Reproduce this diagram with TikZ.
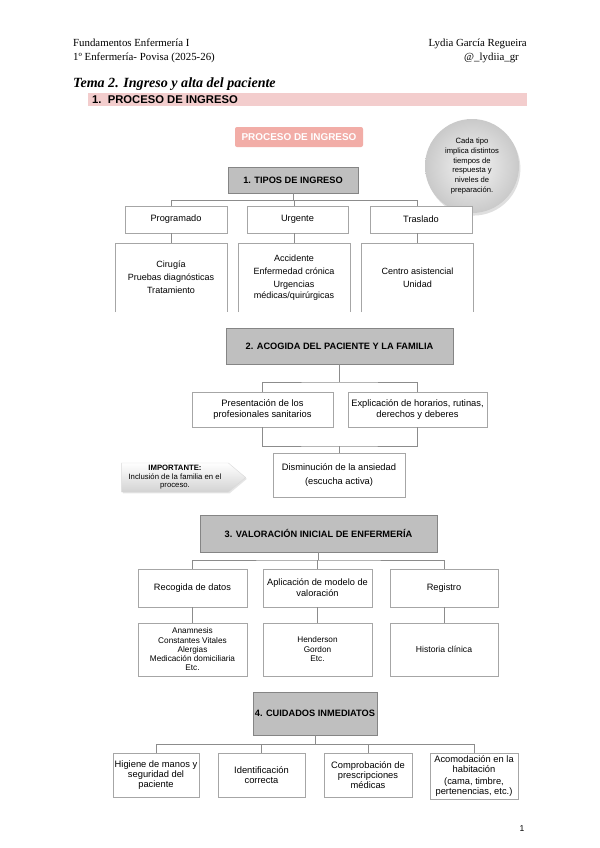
\documentclass[tikz,border=0pt]{standalone}
\usepackage{fontspec}
\setmainfont{Liberation Serif}
\setsansfont{Liberation Sans}
\usetikzlibrary{shapes.symbols,shadows}

\definecolor{headgray}{HTML}{BFBFBF}
\definecolor{headline}{HTML}{858585}
\definecolor{boxline}{HTML}{A6A6A6}
\definecolor{linegray}{HTML}{8C8C8C}
\definecolor{barpink}{HTML}{F3CDCD}
\definecolor{salmon}{HTML}{F2ADA7}

\begin{document}
\begin{tikzpicture}[x=0.35mm, y=-0.35mm]
        \tikzset{
            head/.style={draw=headline, fill=headgray, inner sep=0pt, align=center,
                font=\sffamily\bfseries\fontsize{9.2}{11}\selectfont},
            item/.style={draw=boxline, fill=white, inner sep=0pt, align=center,
                font=\sffamily\fontsize{9.2}{11}\selectfont},
            sub/.style={item, font=\sffamily\fontsize{8.2}{9.5}\selectfont},
            small/.style={font=\sffamily\fontsize{9.3}{9.8}\selectfont},
            pagetext/.style={inner sep=0pt, font=\fontsize{10.8}{12}\selectfont},
            conn/.style={draw=linegray, line width=0.6pt}
        }

        \fill[white] (0,0) rectangle (600,848);
        \useasboundingbox (0,0) rectangle (600,848);

        % Page header
        \node[pagetext, anchor=base west] (course) at (73,46) {Fundamentos Enfermería I};
        \node[pagetext, anchor=base west] (year) at (73,60) {1º Enfermería- Povisa (2025-26)};
        \node[pagetext, anchor=base east] (author) at (527,46) {Lydia García Regueira};
        \node[pagetext, anchor=base east] (handle) at (519,60) {@\_lydiia\_gr};
        \node[inner sep=0pt, anchor=base west, font=\bfseries\itshape\fontsize{14}{16}\selectfont] (title) at (73,87) {Tema 2. Ingreso y alta del paciente};
        \fill[barpink] (88,93) rectangle (527,106);
        \node[inner sep=0pt, anchor=west, font=\sffamily\bfseries\fontsize{11.2}{12}\selectfont] (section) at (92,99.5) {1.\ \ PROCESO DE INGRESO};

        % Section 1 - Tipos de ingreso
        \node[fill=salmon, rounded corners=2pt, minimum width=44.8mm, minimum height=7mm, text=white,
            font=\sffamily\bfseries\fontsize{9.9}{11}\selectfont] (proceso) at (299,137) {PROCESO DE INGRESO};
        \node[circle, minimum size=32.9mm, inner sep=0pt, inner color=gray!8, outer color=gray!42,
            drop shadow={opacity=0.25, shadow xshift=0.5mm, shadow yshift=-0.9mm},
            align=center, font=\sffamily\fontsize{7.6}{9.7}\selectfont] (nota) at (472,166)
            {Cada tipo\\implica distintos\\tiempos de\\respuesta y\\niveles de\\preparación.};
        \node[head, minimum width=45.5mm, minimum height=9.1mm] (tipos) at (293,180) {1. TIPOS DE INGRESO};
        \node[item, minimum width=35.7mm, minimum height=9.45mm] (prog) at (176,219.5) {Programado};
        \node[item, minimum width=35.4mm, minimum height=9.45mm] (urg) at (297.5,219.5) {Urgente};
        \node[item, minimum width=35.7mm, minimum height=9.45mm] (tras) at (421,219.5) {Traslado};
        \node[item, draw=none, minimum width=39.2mm, minimum height=24.15mm, font=\sffamily\fontsize{9}{12.9}\selectfont] (dprog) at (171,277.5)
            {Cirugía\\Pruebas diagnósticas\\Tratamiento};
        \node[item, draw=none, minimum width=39.2mm, minimum height=24.15mm, font=\sffamily\fontsize{9}{10.5}\selectfont] (durg) at (294,277.5)
            {Accidente\\[2.4pt]Enfermedad crónica\\[2.4pt]Urgencias\\médicas/quirúrgicas};
        \node[item, draw=none, minimum width=38.9mm, minimum height=24.15mm, font=\sffamily\fontsize{9}{12.9}\selectfont] (dtras) at (417.5,277.5)
            {Centro asistencial\\Unidad};
        \foreach \n in {prog,urg,tras} {
            \draw[boxline, line width=0.5pt] (d\n.south west) -- (d\n.north west) -- (d\n.north east) -- (d\n.south east);
        }
        \coordinate (j1) at (293,200);
        \draw[conn] (tipos.south) -- (j1);
        \draw[conn] (dprog.north |- j1) -- (dtras.north |- j1);
        \foreach \n in {prog,urg,tras} {
            \draw[conn] (d\n.north |- j1) -- (d\n.north |- \n.north);
            \draw[conn] (d\n.north |- \n.south) -- (d\n.north);
        }

        % Section 2 - Acogida
        \node[head, minimum width=79.45mm, minimum height=12.6mm] (acog) at (339.5,346) {2. ACOGIDA DEL PACIENTE Y LA FAMILIA};
        \node[item, minimum width=49.35mm, minimum height=12.25mm, font=\sffamily\fontsize{9.3}{11}\selectfont] (pres) at (262.5,409.5)
            {Presentación de los\\profesionales sanitarios};
        \node[item, minimum width=48.65mm, minimum height=12.25mm, font=\sffamily\fontsize{9.3}{11}\selectfont] (expl) at (417.5,409.5)
            {Explicación de horarios, rutinas,\\derechos y deberes};
        \node[item, minimum width=46.2mm, minimum height=15.4mm, font=\sffamily\fontsize{9.3}{14}\selectfont] (dism) at (339,475)
            {Disminución de la ansiedad\\(escucha activa)};
        \node[signal, signal to=east, signal pointer angle=80, minimum width=43.4mm, minimum height=10.15mm,
            inner sep=0pt, draw=gray!30, top color=white, bottom color=gray!35,
            drop shadow={opacity=0.2, shadow xshift=0.4mm, shadow yshift=-0.5mm},
            align=center, font=\sffamily\fontsize{7.7}{8.4}\selectfont] (imp) at (175,477.5)
            {\textbf{IMPORTANTE:}\\Inclusión de la familia en el\\proceso.};
        \coordinate (j2) at (339.5,382);
        \coordinate (k2) at (339,446);
        \draw[conn] (acog.south) -- (j2);
        \draw[conn] (pres.north) |- (j2) -| (expl.north);
        \draw[conn] (pres.south) |- (k2) -| (expl.south);
        \draw[conn] (k2) -- (dism.north);

        % Section 3 - Valoracion inicial
        \node[head, minimum width=82.95mm, minimum height=12.95mm] (val) at (318.5,533.5) {3. VALORACIÓN INICIAL DE ENFERMERÍA};
        \node[item, minimum width=38.15mm, minimum height=13.3mm] (rec) at (192.5,588) {Recogida de datos};
        \node[item, minimum width=38.15mm, minimum height=13.3mm] (apl) at (317.5,588) {Aplicación de modelo de\\valoración};
        \node[item, minimum width=37.8mm, minimum height=13.3mm] (reg) at (444,588) {Registro};
        \node[sub, minimum width=38.15mm, minimum height=18.55mm, font=\sffamily\fontsize{8.2}{9.2}\selectfont] (drec) at (192.5,649.5)
            {Anamnesis\\Constantes Vitales\\Alergias\\Medicación domiciliaria\\Etc.};
        \node[sub, minimum width=38.15mm, minimum height=18.55mm] (dapl) at (317.5,649.5) {Henderson\\Gordon\\Etc.};
        \node[sub, minimum width=37.8mm, minimum height=18.55mm, font=\sffamily\fontsize{8.6}{10}\selectfont] (dreg) at (444,649.5) {Historia clínica};
        \coordinate (j3) at (318.5,560);
        \draw[conn] (val.south) -- (j3);
        \draw[conn] (rec.north) |- (j3) -| (reg.north);
        \draw[conn] (apl.north |- j3) -- (apl.north);
        \foreach \n in {rec,apl,reg} {
            \draw[conn] (\n.south) -- (d\n.north);
        }

        % Section 4 - Cuidados inmediatos
        \node[head, minimum width=43.4mm, minimum height=15.05mm] (cuid) at (315,713.5) {4. CUIDADOS INMEDIATOS};
        \node[item, small, minimum width=30.1mm, minimum height=15.4mm] (hig) at (156,775)
            {Higiene de manos y\\seguridad del\\paciente};
        \node[item, small, minimum width=30.45mm, minimum height=15.4mm] (ide) at (261.5,775)
            {Identificación\\correcta};
        \node[item, small, minimum width=30.8mm, minimum height=15.4mm] (com) at (368,775)
            {Comprobación de\\prescripciones\\médicas};
        \node[item, small, minimum width=30.8mm, minimum height=16.1mm] (aco) at (474,776)
            {Acomodación en la\\habitación\\[2.5pt](cama, timbre,\\pertenencias, etc.)};
        \coordinate (j4) at (315,744);
        \draw[conn] (cuid.south) -- (j4);
        \draw[conn] (hig.north) |- (j4) -| (aco.north);
        \draw[conn] (ide.north |- j4) -- (ide.north);
        \draw[conn] (com.north |- j4) -- (com.north);

        % Page number
        \node[font=\sffamily\fontsize{8.5}{9}\selectfont] (page) at (522,829) {1};
\end{tikzpicture}
\end{document}
